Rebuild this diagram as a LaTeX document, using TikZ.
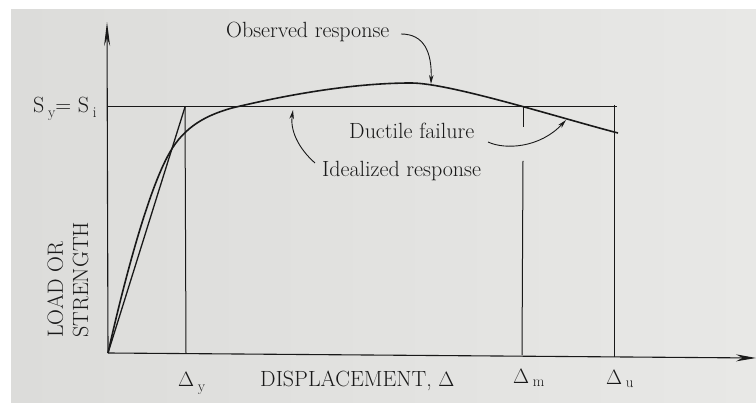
\documentclass[tikz,border=0pt]{standalone}
\usetikzlibrary{arrows.meta}
\definecolor{bgL}{RGB}{220,220,218}
\definecolor{bgR}{RGB}{232,232,230}
\definecolor{ink}{RGB}{25,25,25}
\newcommand{\sbx}[2]{\raisebox{#1}{\fontsize{15}{16}\selectfont #2}}
\begin{document}
\begin{tikzpicture}[x=1pt,y=-1pt,
  lbl/.style={font=\rmfamily\fontsize{22}{26}\selectfont, text=ink, inner sep=0pt},
  axis/.style={line width=1.1pt, draw=ink},
  guide/.style={line width=1pt, draw=ink},
  resp/.style={line width=1.6pt, draw=ink},
  annot/.style={line width=0.9pt, draw=ink, -{Stealth[length=9pt,width=4.5pt]}},
]
\useasboundingbox (0,0) rectangle (756,403);
\fill[white] (0,0) rectangle (756,403);
\shade[left color=bgL, right color=bgR] (11,10) rectangle (756,403);

% key points
\coordinate (O) at (108,353);
\coordinate (Ytop) at (107,22);
\coordinate (Xend) at (756,358);
\coordinate (Yc) at (185,107);
\coordinate (Yb) at (186,353);
\coordinate (Ue) at (617,107);
\coordinate (Ut) at (614,105);
\coordinate (Ub) at (614,357);
\coordinate (Mt) at (523,107);
\coordinate (Mg1) at (523,127);
\coordinate (Mg2) at (523,161);
\coordinate (Mb) at (522,355);
\coordinate (Sl) at (108,107);
\coordinate (P1) at (170,152);
\coordinate (P2) at (232,108);
\coordinate (Pk) at (411,83);
\coordinate (Pe) at (618,133);

% axes
\draw[axis, -{Stealth[length=24pt,width=6pt]}] (O) -- (Ytop);
\draw[axis, -{Stealth[length=20pt,width=7pt]}] (O) -- (Xend);

% idealized response
\draw[guide] (Sl) -- (Ue);
\draw[resp, line width=1.3pt] (O) -- (Yc);

% verticals
\draw[guide] (Yc) -- (Yb);
\draw[guide] (Ut) -- (Ub);
\draw[guide] (Mt) -- (Mg1);
\draw[guide] (Mg2) -- (Mb);

% observed response
\draw[resp] (O) .. controls (118,308) and (145,195) .. (P1)
  .. controls (185,126) and (207,115) .. (P2)
  .. controls (282,96) and (350,83) .. (Pk)
  .. controls (450,83) and (560,118) .. (Pe);

% labels
\node[lbl, anchor=base west] (obs) at (226,38) {Observed response};
\node[lbl, anchor=base west] (duc) at (349,139) {Ductile failure};
\node[lbl, anchor=base west] (ide) at (322,177) {Idealized response};
\node[lbl, anchor=base west] (sy) at (33,113)
  {S\,\sbx{-5pt}{y}= S\,\sbx{-5pt}{i}};
\node[lbl, rotate=90, anchor=base west] (load) at (63,338) {LOAD OR};
\node[lbl, rotate=90, anchor=base west] (str) at (88,338) {STRENGTH};
\node[lbl, anchor=base west] (dy) at (178,387)
  {$\Delta$\,\sbx{-5pt}{y}};
\node[lbl, anchor=base west] (disp) at (260,387) {DISPLACEMENT, $\Delta$};
\node[lbl, anchor=base west] (dm) at (513,384)
  {$\Delta$\,\sbx{-3pt}{m}};
\node[lbl, anchor=base west] (du) at (606,385)
  {$\Delta$\,\sbx{-3pt}{u}};

% annotation arrows
\coordinate (oa) at (401,34);
\coordinate (ob) at (431,84);
\draw[annot] (oa) .. controls (424,34) and (432,52) .. (ob);
\coordinate (da) at (488,142);
\coordinate (db) at (566,120);
\draw[annot] (da) .. controls (505,150) and (540,148) .. (db);
\coordinate (ia) at (315,163);
\coordinate (ib) at (293,110);
\draw[annot] (ia) .. controls (298,148) and (290,130) .. (ib);
\end{tikzpicture}
\end{document}
